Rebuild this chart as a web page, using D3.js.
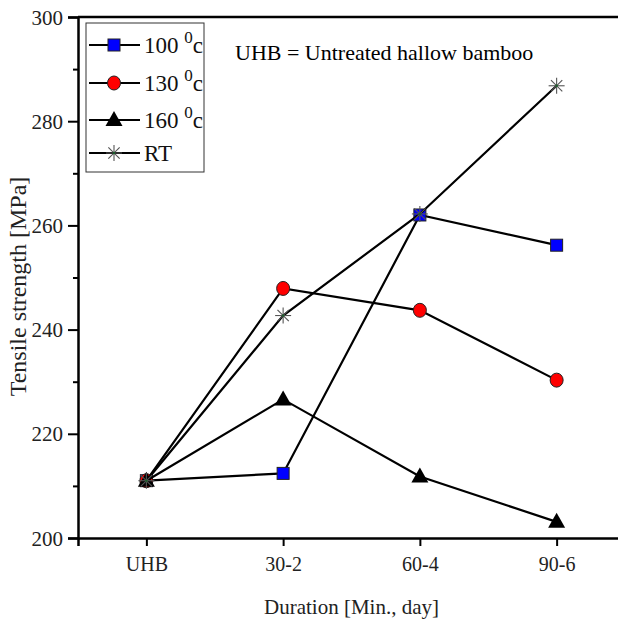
<!DOCTYPE html>
<html>
<head>
<meta charset="utf-8">
<script src="https://cdn.jsdelivr.net/npm/d3@7"></script>
<style>
  body { margin: 0; background: #fff; }
</style>
</head>
<body>
<div id="chart"></div>
<script>
const categories = ["UHB", "30-2", "60-4", "90-6"];
const yTicks = [200, 220, 240, 260, 280, 300];
const minorTicks = [210, 230, 250, 270, 290];
const series100 = [211.0, 212.4, 262.0, 256.2];
const series130 = [211.0, 247.9, 243.7, 230.3];
const series160 = [211.0, 226.6, 211.8, 203.1];
const seriesRT = [211.0, 242.7, 262.2, 286.8];

const seriesList = [
    { name: "100", values: series100, marker: "square" },
    { name: "130", values: series130, marker: "circle" },
    { name: "160", values: series160, marker: "triangle" },
    { name: "RT", values: seriesRT, marker: "star" }
];

const serif = '"Liberation Serif", "Times New Roman", "DejaVu Serif", serif';

const W = 618, H = 627;
const margin = { top: 17, right: -7, bottom: 89, left: 78 };
const width = W - margin.left - margin.right,
    height = H - margin.top - margin.bottom;

const svg = d3.select("#chart")
    .append("svg")
    .attr("width", W)
    .attr("height", H)
    .attr("font-family", serif)
    .append("g")
    .attr("transform", `translate(${margin.left},${margin.top})`);

const xScale = d3.scalePoint()
    .domain(categories)
    .range([0, width])
    .padding(0.5);

const yScale = d3.scaleLinear()
    .domain([200, 300])
    .range([height, 0]);

// minor y ticks
svg.append("g")
    .call(d3.axisLeft(yScale).tickValues(minorTicks).tickSize(5).tickFormat(""))
    .call(g => g.select(".domain").remove())
    .selectAll("line").attr("stroke", "#000").attr("stroke-width", 2);

// y axis
const yAxis = svg.append("g")
    .call(d3.axisLeft(yScale).tickValues(yTicks).tickSize(10).tickPadding(5))
    .attr("font-family", serif);
yAxis.select(".domain").attr("stroke-width", 2.5);
yAxis.selectAll("line").attr("stroke-width", 2);
yAxis.selectAll("text")
    .style("font-family", serif)
    .style("font-size", "21px")
    .attr("fill", "#222")
    .attr("dy", "0.34em");

// x axis
const xAxis = svg.append("g")
    .attr("transform", `translate(0,${height})`)
    .call(d3.axisBottom(xScale).tickSize(8).tickPadding(11))
    .attr("font-family", serif);
xAxis.select(".domain").attr("stroke-width", 2.5);
xAxis.selectAll("line").attr("stroke-width", 2);
xAxis.selectAll("text")
    .style("font-family", serif)
    .style("font-size", "20px")
    .attr("fill", "#222");

// top frame
svg.append("line")
    .attr("x1", 0).attr("x2", width)
    .attr("y1", 0).attr("y2", 0)
    .attr("stroke", "#000")
    .attr("stroke-width", 2.5);

// axis labels
svg.append("text")
    .attr("transform", "rotate(-90)")
    .attr("x", -height / 2 - 9)
    .attr("y", -52)
    .attr("text-anchor", "middle")
    .style("font-family", serif)
    .style("font-size", "24px")
    .attr("fill", "#222")
    .text("Tensile strength [MPa]");

svg.append("text")
    .attr("x", width / 2)
    .attr("y", height + 76)
    .attr("text-anchor", "middle")
    .style("font-family", serif)
    .style("font-size", "21px")
    .attr("fill", "#222")
    .text("Duration [Min., day]");

// note
svg.append("text")
    .attr("x", 157)
    .attr("y", 43)
    .style("font-family", serif)
    .style("font-size", "22px")
    .attr("fill", "#000")
    .text("UHB = Untreated hallow bamboo");

function drawMarker(g, type, x, y) {
    if (type === "square") {
        g.append("rect")
            .attr("x", x - 6).attr("y", y - 6)
            .attr("width", 12).attr("height", 12)
            .attr("fill", "#0000ff")
            .attr("stroke", "#222")
            .attr("stroke-width", 1);
    } else if (type === "circle") {
        g.append("ellipse")
            .attr("cx", x).attr("cy", y)
            .attr("rx", 6.5).attr("ry", 7)
            .attr("fill", "#ff0000")
            .attr("stroke", "#222")
            .attr("stroke-width", 1);
    } else if (type === "triangle") {
        g.append("path")
            .attr("d", `M${x},${y - 9}L${x + 8.5},${y + 6}L${x - 8.5},${y + 6}Z`)
            .attr("fill", "#000");
    } else {
        const r = 8;
        const star = g.append("g").attr("stroke", "#555").attr("stroke-width", 1.1);
        [0, 45, 90, 135].forEach(a => {
            const rad = a * Math.PI / 180;
            star.append("line")
                .attr("x1", x - r * Math.cos(rad)).attr("y1", y - r * Math.sin(rad))
                .attr("x2", x + r * Math.cos(rad)).attr("y2", y + r * Math.sin(rad));
        });
        g.append("circle").attr("cx", x).attr("cy", y).attr("r", 1.2).attr("fill", "#1a5e2a");
    }
}

const line = d3.line()
    .x((d, i) => xScale(categories[i]))
    .y(d => yScale(d));

seriesList.forEach(s => {
    const g = svg.append("g");
    g.append("path")
        .datum(s.values)
        .attr("fill", "none")
        .attr("stroke", "#000")
        .attr("stroke-width", 2.2)
        .attr("d", line);
    s.values.forEach((v, i) => drawMarker(g, s.marker, xScale(categories[i]), yScale(v)));
});

// legend
const legend = svg.append("g")
    .attr("transform", "translate(8, 6)");

legend.append("rect")
    .attr("x", 0).attr("y", 0)
    .attr("width", 118).attr("height", 149)
    .attr("fill", "#fff")
    .attr("stroke", "#333")
    .attr("stroke-width", 1);

const legendY = [22, 60, 97, 130];
seriesList.forEach((s, i) => {
    const y = legendY[i];
    legend.append("line")
        .attr("x1", 3).attr("x2", 54)
        .attr("y1", y).attr("y2", y)
        .attr("stroke", "#000")
        .attr("stroke-width", 2.2);
    drawMarker(legend, s.marker, 28, y);
    const t = legend.append("text")
        .attr("x", 58)
        .attr("y", y + 8)
        .style("font-family", serif)
        .style("font-size", "23px")
        .attr("fill", "#111");
    if (s.name === "RT") {
        t.text("RT");
    } else {
        t.append("tspan").text(s.name + " ");
        t.append("tspan").attr("dy", -10).style("font-size", "17px").text("0");
        t.append("tspan").attr("dy", 10).text("c");
    }
});
</script>
</body>
</html>
